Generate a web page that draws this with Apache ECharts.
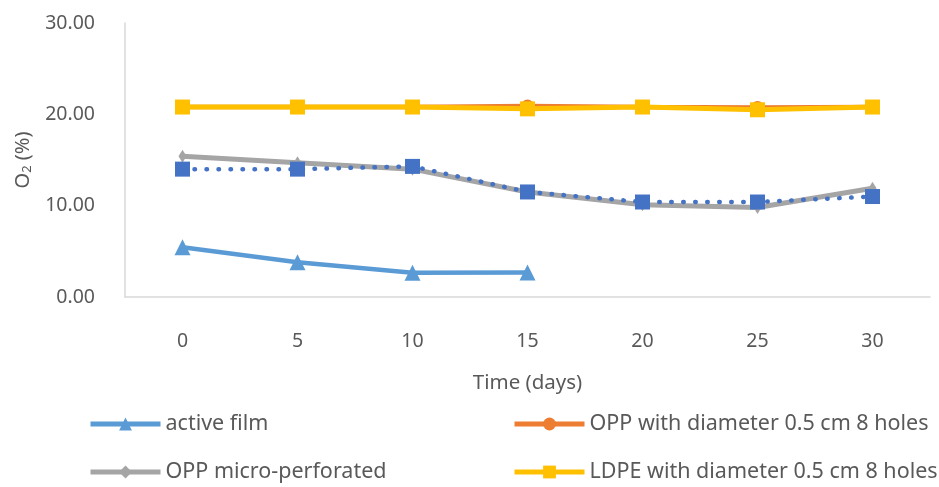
<!DOCTYPE html>
<html>
<head>
<meta charset="utf-8">
<script src="https://cdn.jsdelivr.net/npm/echarts@6/dist/echarts.min.js"></script>
<style>
  html, body { margin: 0; padding: 0; background: #fff; }
  #chart { width: 939px; height: 487px; }
</style>
</head>
<body>
<div id="chart"></div>
<script>
// Storage time (days)
const days = ['0', '5', '10', '15', '20', '25', '30'];

// O2 concentration (%) per packaging type
const activeFilm = [5.45, 3.8, 2.65, 2.68, null, null, null];
const oppHoles = [20.8, 20.8, 20.8, 20.9, 20.8, 20.75, 20.8];
const oppMicro = [15.4, 14.7, 14.0, 11.5, 10.1, 9.8, 11.9];
const ldpeHoles = [20.8, 20.8, 20.8, 20.6, 20.8, 20.5, 20.8];
const series5 = [14.0, 14.0, 14.3, 11.5, 10.4, 10.4, 11.0];

const yTicks = [0, 10, 20, 30];

const FONT = 'Noto Sans';
const TXT = '#595959';

const chart = echarts.init(document.getElementById('chart'), null, { renderer: 'canvas' });

function legendAt(name, left, top) {
  return {
    data: [name],
    left: left,
    top: top,
    itemWidth: 70,
    itemHeight: 16,
    padding: 0,
    lineStyle: { width: 5 },
    textStyle: { fontFamily: FONT, fontSize: 21.5, color: TXT }
  };
}

chart.setOption({
  animation: false,
  backgroundColor: '#ffffff',
  grid: { left: 125, right: 9, top: 23, bottom: 190, containLabel: false },
  legend: [
    legendAt('active film', 88, 413),
    legendAt('OPP with diameter 0.5 cm 8 holes', 512, 413),
    legendAt('OPP micro-perforated', 88, 461),
    legendAt('LDPE with diameter 0.5 cm 8 holes', 512, 461)
  ],
  xAxis: {
    type: 'category',
    data: days,
    boundaryGap: true,
    name: 'Time (days)',
    nameLocation: 'middle',
    nameGap: 76,
    nameTextStyle: { fontFamily: FONT, fontSize: 20.5, color: TXT },
    axisLine: { show: true, lineStyle: { color: '#d9d9d9', width: 1.5 } },
    axisTick: { show: false },
    axisLabel: { fontFamily: FONT, fontSize: 19.5, color: TXT, margin: 34 },
    splitLine: { show: false }
  },
  yAxis: {
    type: 'value',
    min: yTicks[0],
    max: yTicks[yTicks.length - 1],
    interval: 10,
    name: '{n|O}{s|2}{n| (%)}',
    nameLocation: 'middle',
    nameGap: 88,
    nameTextStyle: {
      rich: {
        n: { fontFamily: FONT, fontSize: 20, color: TXT },
        s: { fontFamily: FONT, fontSize: 13, color: TXT, verticalAlign: 'bottom', padding: [8, 0, 0, 0] }
      }
    },
    axisLine: { show: true, lineStyle: { color: '#d9d9d9', width: 1.5 } },
    axisTick: { show: false },
    axisLabel: {
      fontFamily: FONT, fontSize: 19.5, color: TXT, margin: 30,
      formatter: v => v.toFixed(2)
    },
    splitLine: { show: false }
  },
  series: [
    {
      name: 'active film',
      type: 'line',
      data: activeFilm,
      color: '#5B9BD5',
      symbol: 'triangle',
      symbolSize: 16,
      lineStyle: { width: 4.5, color: '#5B9BD5' },
      itemStyle: { color: '#5B9BD5' },
      z: 2
    },
    {
      name: 'OPP with diameter 0.5 cm 8 holes',
      type: 'line',
      data: oppHoles,
      color: '#ED7D31',
      symbol: 'circle',
      symbolSize: 13,
      lineStyle: { width: 4.5, color: '#ED7D31' },
      itemStyle: { color: '#ED7D31' },
      z: 3
    },
    {
      name: 'OPP micro-perforated',
      type: 'line',
      data: oppMicro,
      color: '#A5A5A5',
      symbol: 'diamond',
      symbolSize: [8, 13],
      lineStyle: { width: 5, color: '#A5A5A5' },
      itemStyle: { color: '#A5A5A5' },
      z: 4
    },
    {
      name: 'LDPE with diameter 0.5 cm 8 holes',
      type: 'line',
      data: ldpeHoles,
      color: '#FFC000',
      symbol: 'rect',
      symbolSize: 15,
      lineStyle: { width: 5, color: '#FFC000' },
      itemStyle: { color: '#FFC000' },
      z: 5
    },
    {
      name: 'Series 5',
      type: 'line',
      data: series5,
      color: '#4472C4',
      symbol: 'rect',
      symbolSize: 15,
      lineStyle: { width: 4.5, color: '#4472C4', type: [0.5, 11.5], cap: 'round' },
      itemStyle: { color: '#4472C4' },
      z: 6
    }
  ]
});
</script>
</body>
</html>
